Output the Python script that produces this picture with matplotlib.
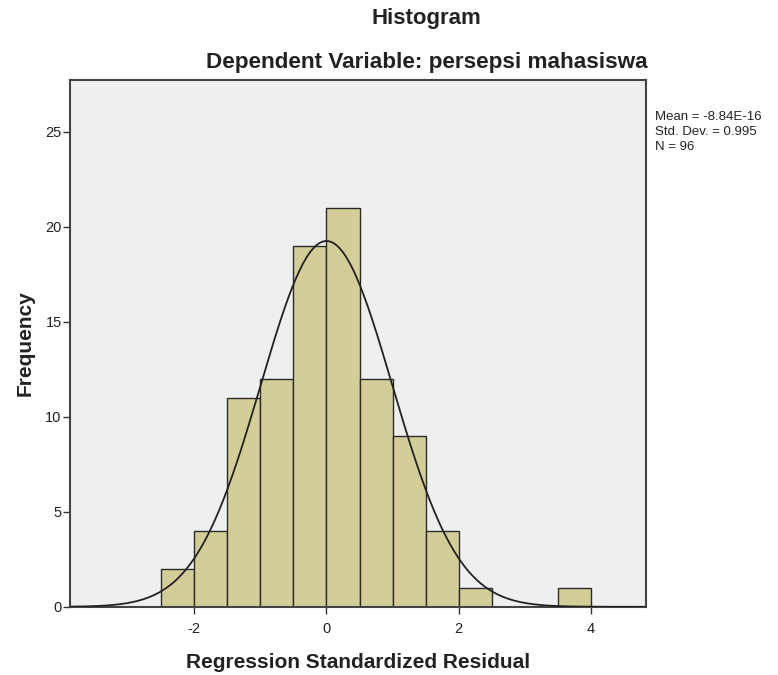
import numpy as np
import matplotlib
matplotlib.use("Agg")
import matplotlib.pyplot as plt

plt.rcParams['font.family'] = ['Liberation Sans', 'DejaVu Sans']

# Data
bin_edges = [-2.5, -2.0, -1.5, -1.0, -0.5, 0.0, 0.5, 1.0, 1.5, 2.0, 2.5, 3.0, 3.5, 4.0]
counts = [2, 4, 11, 12, 19, 21, 12, 9, 4, 1, 0, 0, 1]
mean_val = -8.84e-16
std_val = 0.995
n_val = 96
x_ticks = [-2, 0, 2, 4]
y_ticks = [0, 5, 10, 15, 20, 25]

fig = plt.figure(figsize=(7.78, 6.75), dpi=100)
ax = fig.add_axes([0.090, 0.101, 0.740, 0.780])
ax.set_facecolor('#EEF0EF')

edges = np.array(bin_edges)
widths = np.diff(edges)
for left, w, c in zip(edges[:-1], widths, counts):
    if c > 0:
        ax.bar(left, c, width=w, align='edge', color='#D3CE98',
               edgecolor='#2b2b2b', linewidth=1.0, zorder=2)

bw = widths[0]
xs = np.linspace(-3.9, 4.9, 600)
ys = n_val * bw * np.exp(-0.5 * ((xs - mean_val) / std_val) ** 2) / (std_val * np.sqrt(2 * np.pi))
ax.plot(xs, ys, color='#222222', linewidth=1.3, zorder=3)

ax.set_xlim(-3.88, 4.83)
ax.set_ylim(0, 27.7)
ax.set_xticks(x_ticks)
ax.set_yticks(y_ticks)
ax.set_xticklabels([str(t) for t in x_ticks])
ax.tick_params(axis='both', labelsize=10.5, color='#333333', length=5, width=1, labelcolor='#222222')
ax.tick_params(axis='x', pad=6)
ax.tick_params(axis='y', pad=1)
for s in ax.spines.values():
    s.set_color('#444444')
    s.set_linewidth(1.5)

ax.set_xlabel('Regression Standardized Residual', fontsize=15, fontweight='bold', labelpad=12, color='#222222')
ax.set_ylabel('Frequency', fontsize=15, fontweight='bold', labelpad=8, color='#222222')

fig.text(0.548, 0.972, 'Histogram', ha='center', va='center', fontsize=16, fontweight='bold', color='#222222')
fig.text(0.548, 0.908, 'Dependent Variable: persepsi mahasiswa', ha='center', va='center',
         fontsize=16.2, fontweight='bold', color='#222222')

fig.text(0.842, 0.836, 'Mean = -8.84E-16\nStd. Dev. = 0.995\nN = 96', ha='left', va='top',
         fontsize=9.5, color='#222222', linespacing=1.36)

fig.savefig('out.png', dpi=100)
